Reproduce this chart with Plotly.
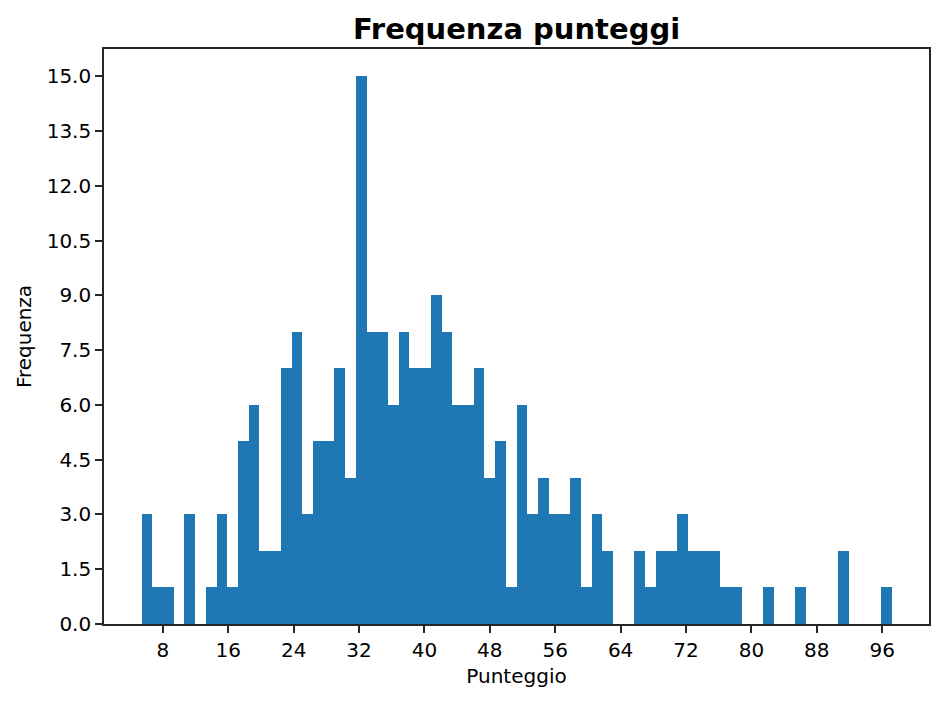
import plotly.graph_objects as go

# Histogram data (70 equal-width bins)
bin_start = 5.39
bin_end = 97.14
counts = [3, 1, 1, 0, 3, 0, 1, 3, 1, 5,
          6, 2, 2, 7, 8, 3, 5, 5, 7, 4,
          15, 8, 8, 6, 8, 7, 7, 9, 8, 6,
          6, 7, 4, 5, 1, 6, 3, 4, 3, 3,
          4, 1, 3, 2, 0, 0, 2, 1, 2, 2,
          3, 2, 2, 2, 1, 1, 0, 0, 1, 0,
          0, 1, 0, 0, 0, 2, 0, 0, 0, 1]
x_ticks = [8, 16, 24, 32, 40, 48, 56, 64, 72, 80, 88, 96]
y_ticks = [0.0, 1.5, 3.0, 4.5, 6.0, 7.5, 9.0, 10.5, 12.0, 13.5, 15.0]

bin_width = (bin_end - bin_start) / len(counts)
centers = [bin_start + (i + 0.5) * bin_width for i in range(len(counts))]

span = bin_end - bin_start
x_range = [bin_start - 0.05 * span, bin_end + 0.05 * span]
y_range = [0, max(counts) * 1.05]

fig = go.Figure(go.Bar(
    x=centers, y=counts, width=bin_width,
    marker=dict(color="#1f77b4", line=dict(width=0)),
    hoverinfo="x+y",
))

font = "DejaVu Sans"
axis_common = dict(
    showline=True, linecolor="#262626", linewidth=1.6, mirror=True,
    ticks="outside", ticklen=7, tickwidth=1.6, tickcolor="#262626",
    showgrid=False, zeroline=False,
    tickfont=dict(family=font, size=20, color="#000000"),
)

fig.update_layout(
    width=944, height=702,
    margin=dict(l=96, r=23, t=41, b=86),
    paper_bgcolor="white", plot_bgcolor="white",
    bargap=0, showlegend=False,
    title=dict(text="<b>Frequenza punteggi</b>", x=0.5, xref="paper",
               y=1 - 21 / 702, yref="container", yanchor="middle", xanchor="center",
               font=dict(family=font, size=29, color="#000000")),
    xaxis=dict(range=x_range, tickvals=x_ticks, ticktext=[str(v) for v in x_ticks],
               title=dict(text="Punteggio", font=dict(family=font, size=20, color="#000000"),
                          standoff=8),
               **axis_common),
    yaxis=dict(range=y_range, tickvals=y_ticks, ticktext=[f"{v:.1f}" for v in y_ticks],
               title=dict(text="Frequenza", font=dict(family=font, size=20, color="#000000"),
                          standoff=10),
               **axis_common),
)

fig.write_html("out.html")
